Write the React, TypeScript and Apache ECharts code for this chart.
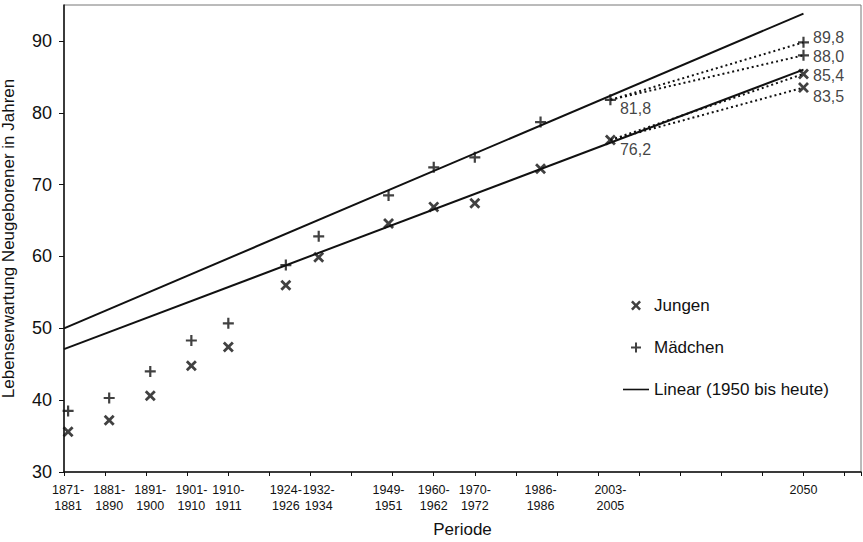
import React, { useEffect, useRef } from "react";
import * as echarts from "echarts";

// ---- data ----
const periodLabels = [
  "1871-\n1881", "1881-\n1890", "1891-\n1900", "1901-\n1910", "1910-\n1911",
  "1924-\n1926", "1932-\n1934", "1949-\n1951", "1960-\n1962", "1970-\n1972",
  "1986-\n1986", "2003-\n2005", "2050",
];
const periodStart = [1871, 1881, 1891, 1901, 1910, 1924, 1932, 1949, 1960, 1970, 1986, 2003, 2050];
const observedYears = [1871, 1881, 1891, 1901, 1910, 1924, 1932, 1949, 1960, 1970, 1986, 2003];
const jungen = [35.6, 37.2, 40.6, 44.8, 47.4, 56.0, 59.9, 64.6, 66.9, 67.4, 72.2, 76.2];
const maedchen = [38.5, 40.3, 44.0, 48.3, 50.7, 58.8, 62.8, 68.5, 72.4, 73.8, 78.7, 81.8];
const projectionYear = 2050;
const jungenProjection = [85.4, 83.5];
const maedchenProjection = [89.8, 88.0];
const trendYears = [1870, 2050];
const trendMaedchen = [50.0, 93.8];
const trendJungen = [47.1, 86.0];
const yTicks = [30, 40, 50, 60, 70, 80, 90];

// ---- styles ----
const FONT = "'Liberation Sans', Arial, Helvetica, sans-serif";
const INK = "#111";
const PLUS = "path://M4,0H6V4H10V6H6V10H4V6H0V4H4Z";
const CROSS = "path://M0,1.8L1.8,0L5,3.2L8.2,0L10,1.8L6.8,5L10,8.2L8.2,10L5,6.8L1.8,10L0,8.2L3.2,5Z";
const LINE_ICON = "path://M0,0H26V1.6H0Z";
const lastObsOffset = [0, 9];
const jungenProjOffsets = [[0, 2], [0, 9]];
const maedchenProjOffsets = [[0, -5], [0, 1]];
const fmt = (v: number) => v.toFixed(1).replace(".", ",");

function buildScatter(vals: number[], proj: number[], projOffsets: number[][]) {
  const pts: any[] = observedYears.map((x, i) => {
    const isLast = i === observedYears.length - 1;
    return isLast
      ? { value: [x, vals[i]], label: { show: true, offset: lastObsOffset } }
      : { value: [x, vals[i]] };
  });
  proj.forEach((p, k) => {
    pts.push({ value: [projectionYear, p], label: { show: true, offset: projOffsets[k] } });
  });
  return pts;
}

export default function App() {
  const ref = useRef<HTMLDivElement>(null);
  useEffect(() => {
    if (!ref.current) return;
    const chart = echarts.init(ref.current, undefined, { renderer: "svg" });
    const lastIdx = observedYears.length - 1;
    const dotted: any[] = [];
    [
      [jungen[lastIdx], jungenProjection],
      [maedchen[lastIdx], maedchenProjection],
    ].forEach(([start, projs]: any) => {
      projs.forEach((p: number) => {
        dotted.push({
          type: "line",
          name: "proj",
          data: [[observedYears[lastIdx], start], [projectionYear, p]],
          symbol: "none",
          lineStyle: { color: INK, width: 2, type: [2, 3] },
          z: 1,
        });
      });
    });
    const labelBase = {
      show: false,
      position: "right",
      distance: 4,
      color: INK,
      fontSize: 16,
      fontFamily: FONT,
      formatter: (p: any) => fmt(p.value[1]),
    };
    chart.setOption({
      animation: false,
      backgroundColor: "#fff",
      textStyle: { fontFamily: FONT, color: INK },
      grid: {
        left: 64, right: 2, top: 5, bottom: 70,
        outerBoundsMode: "none",
        containLabel: false,
        show: true, borderColor: "#777", borderWidth: 1,
      },
      legend: {
        orient: "vertical",
        left: 618,
        top: 292,
        itemGap: 25,
        itemWidth: 26,
        itemHeight: 10,
        selectedMode: false,
        textStyle: { fontSize: 17, color: INK, fontFamily: FONT },
        data: [
          { name: "Jungen", icon: CROSS },
          { name: "Mädchen", icon: PLUS },
          { name: "Linear (1950 bis heute)", icon: LINE_ICON },
        ],
      },
      xAxis: {
        type: "value",
        min: 1870,
        max: 2064,
        interval: 10,
        name: "Periode",
        nameLocation: "middle",
        nameGap: 49,
        nameTextStyle: { fontSize: 17, color: INK, fontFamily: FONT },
        axisLine: { lineStyle: { color: INK, width: 1.5 } },
        axisTick: { show: true, length: 4, lineStyle: { color: INK, width: 1 } },
        splitLine: { show: false },
        axisLabel: {
          customValues: periodStart,
          showMinLabel: true,
          showMaxLabel: true,
          hideOverlap: false,
          margin: 10,
          fontSize: 12.5,
          lineHeight: 16,
          color: INK,
          fontFamily: FONT,
          formatter: (v: number) => {
            const i = periodStart.indexOf(v);
            return i >= 0 ? periodLabels[i] : "";
          },
        },
      },
      yAxis: {
        type: "value",
        min: 30,
        max: 95,
        interval: 10,
        name: "Lebenserwartung Neugeborener in Jahren",
        nameLocation: "middle",
        nameGap: 47,
        nameTextStyle: { fontSize: 17, color: INK, fontFamily: FONT },
        axisLine: { show: true, lineStyle: { color: INK, width: 1.5 } },
        axisTick: { show: true, length: 5, customValues: yTicks, lineStyle: { color: INK, width: 1 } },
        splitLine: { show: false },
        axisLabel: {
          customValues: yTicks,
          margin: 12,
          fontSize: 18,
          color: INK,
          fontFamily: FONT,
        },
      },
      series: [
        {
          type: "line",
          name: "Linear (1950 bis heute)",
          data: trendYears.map((x, i) => [x, trendMaedchen[i]]),
          symbol: "none",
          lineStyle: { color: INK, width: 2 },
          itemStyle: { color: INK },
          z: 2,
        },
        {
          type: "line",
          name: "Linear (1950 bis heute)",
          data: trendYears.map((x, i) => [x, trendJungen[i]]),
          symbol: "none",
          lineStyle: { color: INK, width: 2 },
          itemStyle: { color: INK },
          z: 2,
        },
        ...dotted,
        {
          type: "scatter",
          name: "Jungen",
          symbol: CROSS,
          symbolSize: 11,
          itemStyle: { color: INK },
          label: labelBase,
          data: buildScatter(jungen, jungenProjection, jungenProjOffsets),
          z: 3,
        },
        {
          type: "scatter",
          name: "Mädchen",
          symbol: PLUS,
          symbolSize: 11,
          itemStyle: { color: INK },
          label: labelBase,
          data: buildScatter(maedchen, maedchenProjection, maedchenProjOffsets),
          z: 3,
        },
      ],
    });
    return () => chart.dispose();
  }, []);
  return <div ref={ref} style={{ position: "fixed", left: 0, top: 0, width: 863, height: 542 }} />;
}
